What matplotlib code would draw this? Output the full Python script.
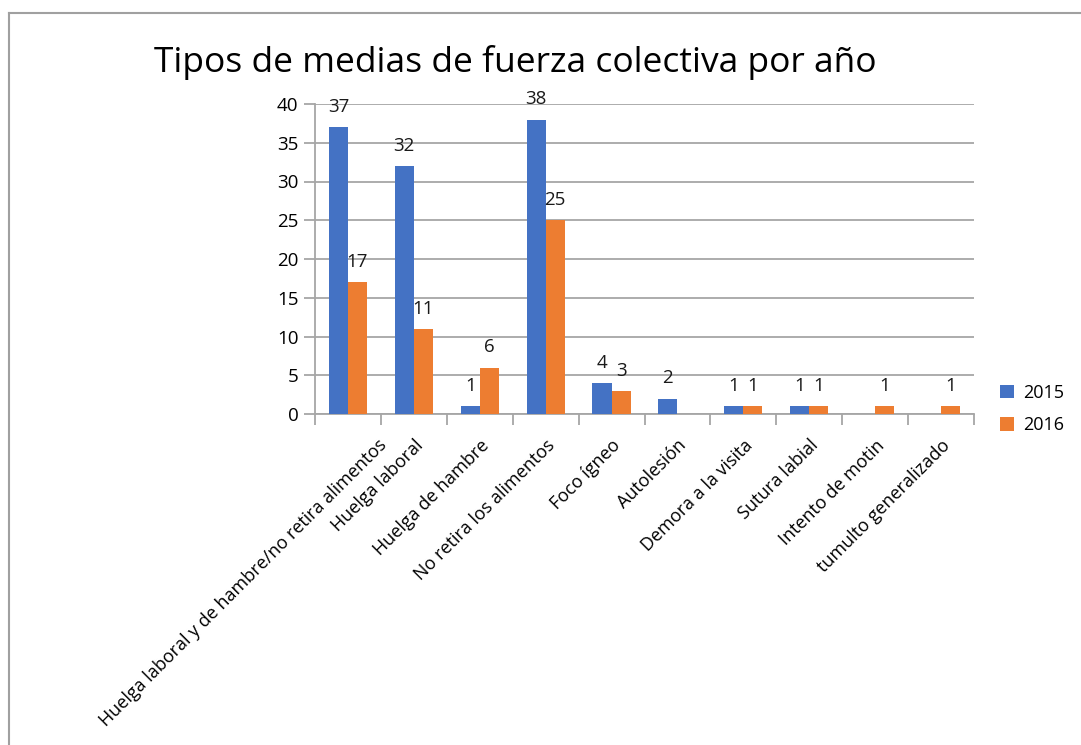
import numpy as np
import matplotlib.pyplot as plt
from matplotlib.lines import Line2D
from matplotlib.transforms import ScaledTranslation

plt.rcParams['font.family'] = ['Open Sans', 'DejaVu Sans']

categories = ["Huelga laboral y de hambre/no retira alimentos", "Huelga laboral",
              "Huelga de hambre", "No retira los alimentos", "Foco ígneo", "Autolesión",
              "Demora a la visita", "Sutura labial", "Intento de motin",
              "tumulto generalizado"]
vals_2015 = [37, 32, 1, 38, 4, 2, 1, 1, None, None]
vals_2016 = [17, 11, 6, 25, 3, None, 1, 1, 1, 1]
series_names = ["2015", "2016"]
y_ticks = [0, 5, 10, 15, 20, 25, 30, 35, 40]

BLUE = '#4472C4'
ORANGE = '#ED7D31'
GRID = '#a6a6a6'
FS = 13.5

fig = plt.figure(figsize=(10.81, 7.45), dpi=100)
ax = fig.add_axes([315 / 1081, 1 - 414 / 745, 659 / 1081, 310 / 745])

x = np.arange(len(categories))
w = 0.29
for vals, off, col, name in [(vals_2015, -w / 2, BLUE, series_names[0]),
                             (vals_2016, w / 2, ORANGE, series_names[1])]:
    xs = [xi + off for xi, v in zip(x, vals) if v is not None]
    ys = [v for v in vals if v is not None]
    ax.bar(xs, ys, width=w, color=col, label=name, zorder=3)
    for xi, v in zip(xs, ys):
        ax.annotate(str(v), (xi, v), xytext=(0, 8), textcoords='offset points',
                    ha='center', va='bottom', fontsize=FS, color='#1a1a1a')

ax.set_xlim(-0.5, len(categories) - 0.5)
ax.set_ylim(0, 40)
ax.set_yticks(y_ticks)
ax.yaxis.grid(True, color=GRID, linewidth=1.3, zorder=0)
ax.set_axisbelow(True)
for s in ['top', 'right']:
    ax.spines[s].set_visible(False)
for s in ['left', 'bottom']:
    ax.spines[s].set_color(GRID)
    ax.spines[s].set_linewidth(1.3)

ax.set_xticks(np.arange(len(categories) + 1) - 0.5, minor=False)
ax.set_xticklabels([])
ax.tick_params(axis='x', which='major', length=8, width=1.3, color=GRID)
ax.set_xticks(x, minor=True)
ax.set_xticklabels(categories, minor=True, rotation=45, ha='right',
                   rotation_mode='anchor', fontsize=13)
ax.tick_params(axis='x', which='minor', length=0, pad=16)
ax.tick_params(axis='y', length=8, width=1.3, color=GRID, labelsize=FS, pad=4)

# long first label is pushed right as in the original
first = ax.xaxis.get_minorticklabels()[0]
first.set_transform(first.get_transform() + ScaledTranslation(0.30, 0.0, fig.dpi_scale_trans))

fig.text(515 / 1081, 1 - 62 / 745, "Tipos de medias de fuerza colectiva por año",
         ha='center', va='center', fontsize=25.5)

ax.legend(loc='center left', bbox_to_anchor=(993 / 1081, 1 - 409 / 745),
          bbox_transform=fig.transFigure, frameon=False, fontsize=13,
          handlelength=0.75, handleheight=0.75, labelspacing=0.8, handletextpad=0.5,
          borderaxespad=0, borderpad=0.4)

# outer chart frame
fig.add_artist(Line2D([9 / 1081, 9 / 1081], [0, 1 - 13 / 745], transform=fig.transFigure,
                      color='#a0a0a0', linewidth=1.5))
fig.add_artist(Line2D([9 / 1081, 1], [1 - 13 / 745, 1 - 13 / 745], transform=fig.transFigure,
                      color='#a0a0a0', linewidth=1.5))

fig.savefig('out.png', dpi=100)
